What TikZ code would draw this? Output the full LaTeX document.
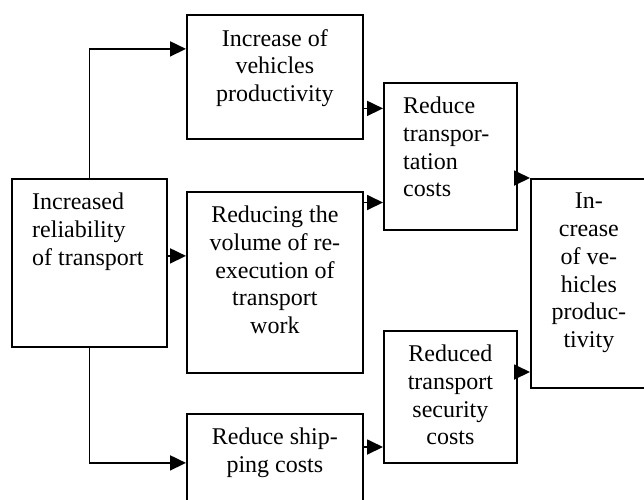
\documentclass[tikz,border=0pt]{standalone}
\usepackage{fontspec}
\setmainfont{Liberation Serif}
\usetikzlibrary{arrows.meta}
\begin{document}
\begin{tikzpicture}[x=1pt,y=-1pt,
  boxs/.style={draw, line width=1.8pt, inner sep=0pt, anchor=north west},
  txt/.style={font=\fontsize{24}{27.7}\selectfont, align=center, inner sep=0pt, anchor=north},
  ltxt/.style={font=\fontsize{24}{27.7}\selectfont, align=left, inner sep=0pt, anchor=north west},
  arr/.style={line width=1.8pt, line join=miter, -{Triangle[length=16pt,width=15pt]}}]
\useasboundingbox (0,0) rectangle (644,499);
\clip (0,0) rectangle (644,499);
% boxes
\node[boxs, minimum width=155pt, minimum height=168pt] (A) at (11,178) {};
\node[boxs, minimum width=176pt, minimum height=124pt] (B) at (186,14) {};
\node[boxs, minimum width=176pt, minimum height=181pt] (C) at (186,191) {};
\node[boxs, minimum width=176pt, minimum height=98pt] (D) at (186,413) {};
\node[boxs, minimum width=133pt, minimum height=147pt] (E) at (383,82) {};
\node[boxs, minimum width=116pt, minimum height=209pt] (F) at (530,178) {};
\node[boxs, minimum width=133pt, minimum height=132pt] (G) at (383,330) {};
% texts
\node[ltxt] (tA) at ([xshift=21pt,yshift=-15pt]A.north west) {Increased\\reliability\\of transport};
\node[txt] (tB) at ([yshift=-15pt]B.north) {Increase of\\vehicles\\productivity};
\node[txt] (tC) at ([yshift=-15pt]C.north) {Reducing the\\volume of re-\\execution of\\transport\\work};
\node[txt] (tD) at ([yshift=-15pt]D.north) {Reduce ship-\\ping costs};
\node[ltxt] (tE) at ([xshift=20pt,yshift=-15pt]E.north west) {Reduce\\transpor-\\tation\\costs};
\node[txt] (tF) at ([yshift=-15pt]F.north) {In-\\crease\\of ve-\\hicles\\produc-\\tivity};
\node[txt] (tG) at ([yshift=-15pt]G.north) {Reduced\\transport\\security\\costs};
% connector start points
\coordinate (a1) at ([yshift=7pt]A.east);
\coordinate (b1) at ([yshift=-31.5pt]B.east);
\coordinate (c1) at ([yshift=-11.5pt]C.north east);
\coordinate (d1) at ([yshift=-34pt]D.north east);
\coordinate (e1) at ([yshift=-96pt]E.north east);
\coordinate (g1) at ([yshift=-42pt]G.north east);
% connectors
\draw[arr] (A.north) |- ([yshift=28pt]B.west);
\draw[arr] (a1) -- (a1 -| C.west);
\draw[arr] (A.south) |- (D.west);
\draw[arr] (b1) -- (b1 -| E.west);
\draw[arr] (c1) -- (c1 -| E.west);
\draw[arr] (d1) -- (d1 -| G.west);
\draw[arr] (e1) -- (e1 -| F.west);
\draw[arr] (g1) -- (g1 -| F.west);
\end{tikzpicture}
\end{document}
